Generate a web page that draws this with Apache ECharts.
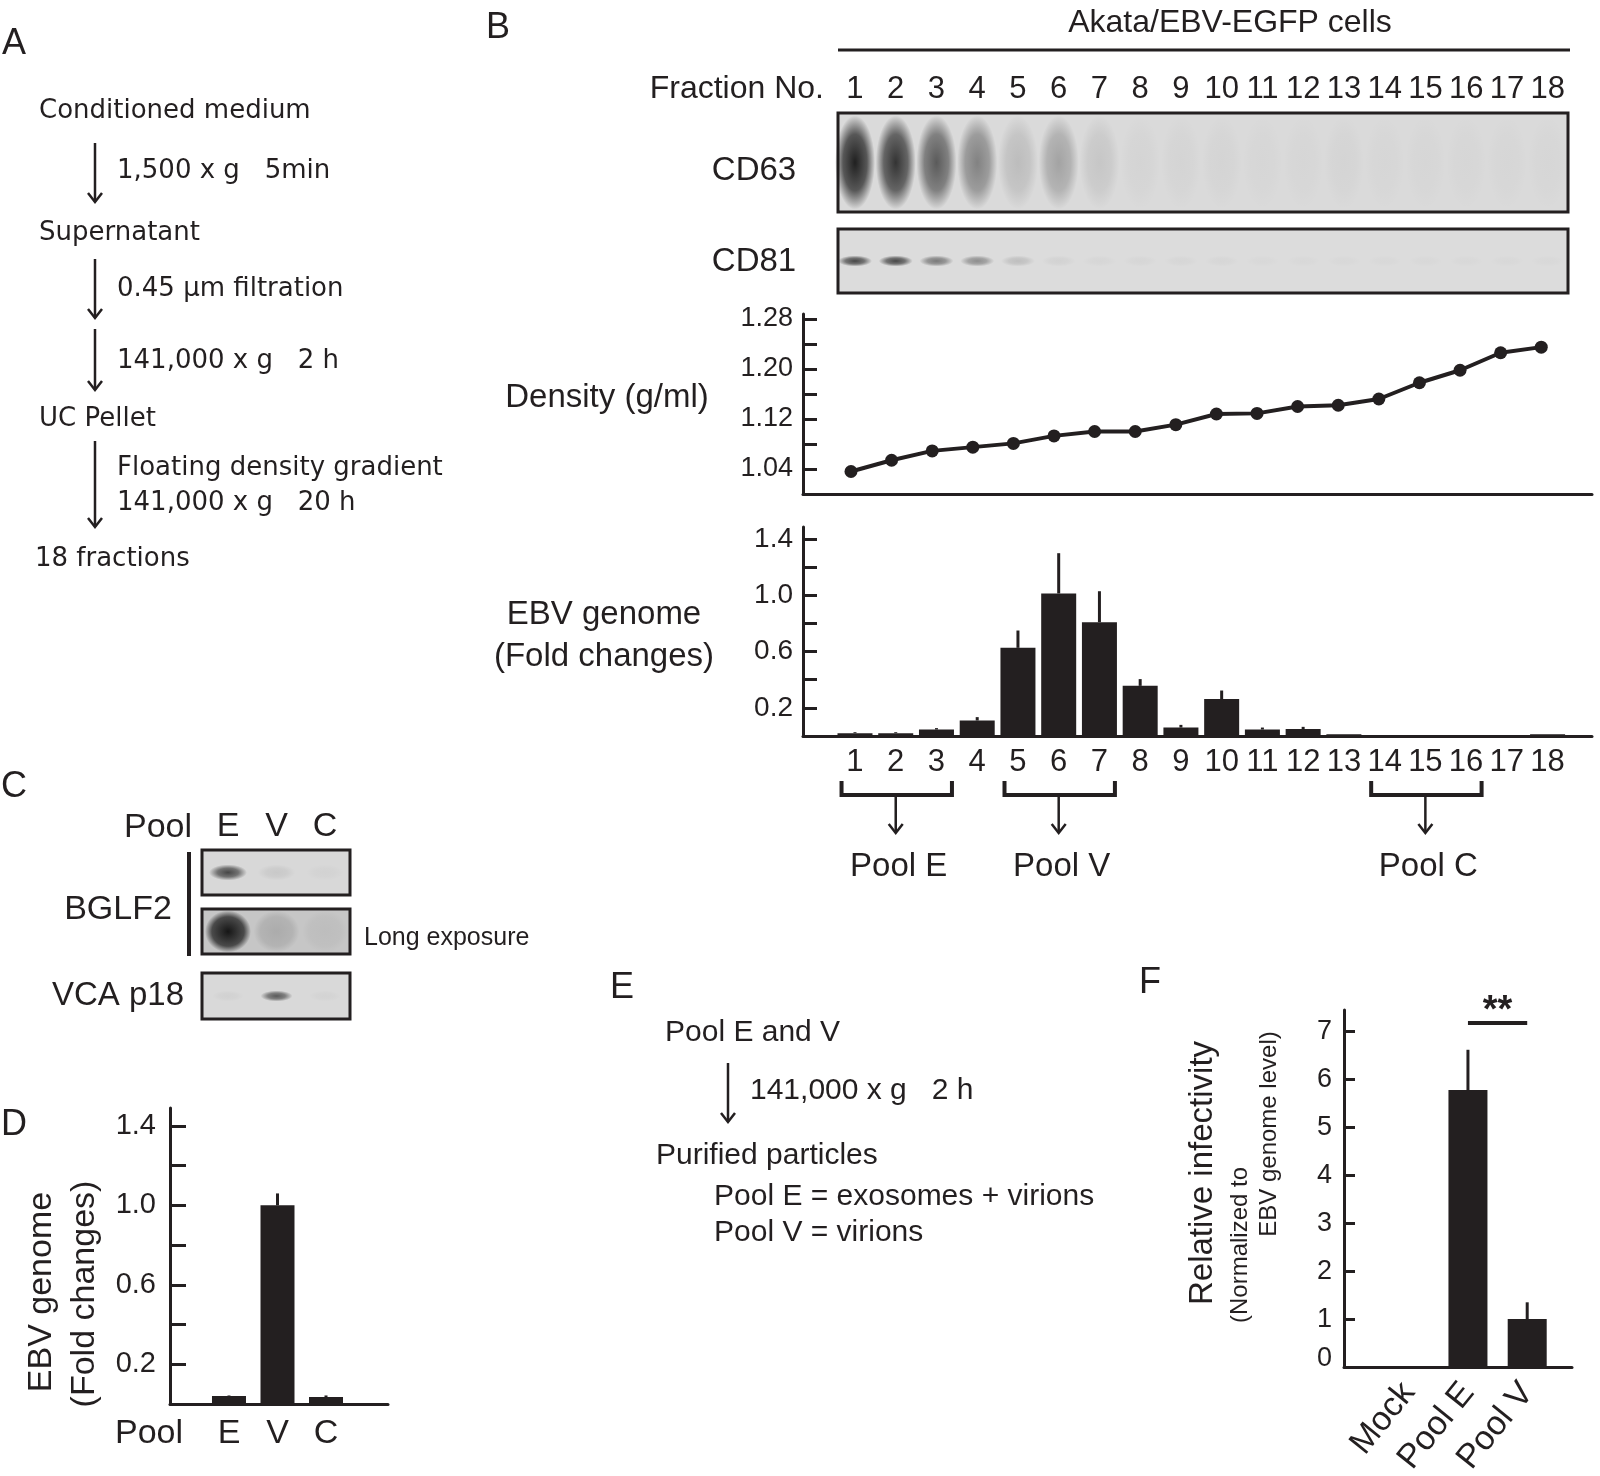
<!DOCTYPE html>
<html><head><meta charset="utf-8">
<script src="https://cdn.jsdelivr.net/npm/echarts@6/dist/echarts.min.js"></script>
<style>html,body{margin:0;padding:0;background:#fff}#c{width:1600px;height:1476px}</style>
</head><body><div id="c"></div>
<script>
// ---------- DATA ----------
const fractions = [1,2,3,4,5,6,7,8,9,10,11,12,13,14,15,16,17,18];
const densityValues = [1.036,1.054,1.069,1.075,1.081,1.093,1.100,1.100,1.111,1.128,1.129,1.140,1.142,1.152,1.178,1.198,1.226,1.235];
const ebvFold = [0.020,0.020,0.046,0.110,0.626,1.012,0.808,0.356,0.060,0.262,0.046,0.049,0.013,0.004,0.004,0.004,0.004,0.012];
const ebvErr  = [0.007,0.007,0.010,0.024,0.123,0.286,0.220,0.048,0.019,0.061,0.014,0.016,0,0,0,0,0,0];
const cd63Intensity = [0.95,0.85,0.65,0.45,0.15,0.28,0.10,0.03,0.03,0.03,0.02,0.02,0.03,0.02,0.02,0.02,0.02,0.02];
const cd81Intensity = [0.75,0.75,0.5,0.4,0.15,0.05,0.03,0.03,0.03,0.03,0.02,0.02,0.02,0.02,0.02,0.02,0.02,0.02];
const densityTicks = [1.04,1.08,1.12,1.16,1.20,1.24,1.28];
const densityLabels = [1.04,1.12,1.20,1.28];
const foldTicks = [0.2,0.4,0.6,0.8,1.0,1.2,1.4];
const foldLabels = [0.2,0.6,1.0,1.4];
const poolGroups = [['Pool E',1,3],['Pool V',5,7],['Pool C',14,16]];

const poolNames = ['E','V','C'];
const poolFold = [0.040,1.000,0.035];
const poolErr  = [0.003,0.060,0.008];
const bglf2Short = [0.75,0.08,0.03];
const bglf2Long  = [1.0,0.15,0.05];
const vcaP18     = [0.04,0.65,0.03];

const infectCats = ['Mock','Pool E','Pool V'];
const infectValues = [0,5.78,1.0];
const infectErr = [0,0.84,0.35];
const infectTicks = [1,2,3,4,5,6,7];
const infectLabels = [0,1,2,3,4,5,6,7];

// ---------- STYLE ----------
const INK = '#231f20';
const FONT = '"Liberation Sans", Arial, sans-serif';
const FONT_A = '"DejaVu Sans", sans-serif';

const chart = echarts.init(document.getElementById('c'), null, {renderer:'canvas', width:1600, height:1476});

function band(core) {
  return new echarts.graphic.RadialGradient(0.5,0.5,0.5,[
    {offset:0,color:'rgba(22,22,22,1)'},
    {offset:core||0.55,color:'rgba(22,22,22,0.7)'},
    {offset:1,color:'rgba(22,22,22,0)'}]);
}
function hidden(grid, min, max) {
  return {type:'value', gridIndex:grid, min:min, max:max,
    axisLine:{show:false}, axisTick:{show:false}, axisLabel:{show:false}, splitLine:{show:false}};
}
function lab(size, extra) {
  return Object.assign({color:INK, fontFamily:FONT, fontSize:size}, extra);
}
const axLine = {show:true, onZero:false, lineStyle:{color:INK, width:3}};
function yTicks(vals, len) { return {show:true, inside:true, length:len, customValues:vals, lineStyle:{color:INK, width:3}}; }
function errRender(params, api) {
  const x = api.value(0), y = api.value(1), e = api.value(2);
  if (!e) return null;
  const p1 = api.coord([x, y]), p2 = api.coord([x, y + e]);
  return {type:'line', shape:{x1:p1[0], y1:p1[1], x2:p2[0], y2:p2[1]}, style:{stroke:INK, lineWidth:3}};
}
function blotData(arr, xs, y) { return arr.map((v,i)=>({value:[xs[i], y], itemStyle:{opacity:v}})); }
const lanes = [1,2,3];

const boxStyle = (bg) => ({show:true, backgroundColor:bg, borderColor:INK, borderWidth:3, outerBoundsMode:'none'});

const option = {
  animation:false,
  backgroundColor:'#ffffff',
  grid:[
    Object.assign({left:838, top:113, width:730, height:99}, boxStyle('#dadada')),
    Object.assign({left:838, top:229, width:730, height:64}, boxStyle('#dcdcdc')),
    {left:803, top:314, width:789, height:180, outerBoundsMode:'none'},
    {left:803, top:527, width:789, height:209, outerBoundsMode:'none'},
    {left:170, top:1108, width:218, height:296, outerBoundsMode:'none'},
    {left:1344, top:1010, width:228, height:357, outerBoundsMode:'none'},
    Object.assign({left:202, top:850, width:148, height:45}, boxStyle('#d8d8d8')),
    Object.assign({left:202, top:909, width:148, height:45}, boxStyle('#c6c6c6')),
    Object.assign({left:202, top:973, width:148, height:46}, boxStyle('#d9d9d9'))
  ],
  xAxis:[
    {type:'value', gridIndex:0, position:'top', min:0.583, max:18.497,
     axisLine:{show:false}, axisTick:{show:false}, splitLine:{show:false},
     axisLabel:lab(31, {customValues:fractions, margin:8, formatter:v=>String(Math.round(v))})},
    hidden(1, 0.583, 18.497),
    {type:'value', gridIndex:2, min:-0.182, max:19.25, axisLine:axLine, axisTick:{show:false},
     axisLabel:{show:false}, splitLine:{show:false}},
    {type:'value', gridIndex:3, min:-0.276, max:19.09, axisLine:axLine, axisTick:{show:false}, splitLine:{show:false},
     axisLabel:lab(31, {customValues:fractions, margin:11, formatter:v=>String(Math.round(v))})},
    {type:'value', gridIndex:4, min:-0.216, max:4.278, axisLine:axLine, axisTick:{show:false}, splitLine:{show:false},
     axisLabel:lab(34, {customValues:lanes, margin:13, formatter:v=>poolNames[Math.round(v)-1]})},
    {type:'value', gridIndex:5, min:-0.092, max:3.756, axisLine:axLine, axisTick:{show:false}, splitLine:{show:false},
     axisLabel:lab(34, {customValues:lanes, margin:20, rotate:51, formatter:v=>infectCats[Math.round(v)-1]})},
    {type:'value', gridIndex:6, position:'top', min:0.464, max:3.515,
     axisLine:{show:false}, axisTick:{show:false}, splitLine:{show:false},
     axisLabel:lab(34, {customValues:lanes, margin:6, formatter:v=>poolNames[Math.round(v)-1]})},
    hidden(7, 0.464, 3.515), hidden(8, 0.464, 3.515)
  ],
  yAxis:[
    hidden(0,0,1), hidden(1,0,1),
    {type:'value', gridIndex:2, min:1.0, max:1.288, axisLine:axLine, axisTick:yTicks(densityTicks,14), splitLine:{show:false},
     axisLabel:lab(27, {customValues:densityLabels, margin:10, formatter:v=>v.toFixed(2)})},
    {type:'value', gridIndex:3, min:0, max:1.484, axisLine:axLine, axisTick:yTicks(foldTicks,14), splitLine:{show:false},
     axisLabel:lab(28, {customValues:foldLabels, margin:10, formatter:v=>v.toFixed(1)})},
    {type:'value', gridIndex:4, min:0, max:1.49, axisLine:axLine, axisTick:yTicks(foldTicks,16), splitLine:{show:false},
     axisLabel:lab(29, {customValues:foldLabels, margin:14, formatter:v=>v.toFixed(1)})},
    {type:'value', gridIndex:5, min:0, max:7.45, axisLine:axLine, axisTick:yTicks(infectTicks,11), splitLine:{show:false},
     axisLabel:lab(27, {customValues:infectLabels, margin:12,
       formatter:v=>(Math.round(v)===0 ? '{up|0}' : String(Math.round(v))),
       rich:{up:{fontSize:27, fontFamily:FONT, color:INK, padding:[0,0,17,0]}}})},
    hidden(6,0,1), hidden(7,0,1), hidden(8,0,1)
  ],
  series:[
    {type:'scatter', xAxisIndex:0, yAxisIndex:0, silent:true, symbol:'circle', symbolSize:[40,94],
     itemStyle:{color:band(0.6)}, data:blotData(cd63Intensity, fractions, 0.5)},
    {type:'scatter', xAxisIndex:1, yAxisIndex:1, silent:true, symbol:'circle', symbolSize:[34,11],
     itemStyle:{color:band()}, data:blotData(cd81Intensity, fractions, 0.5)},
    {type:'line', xAxisIndex:2, yAxisIndex:2, silent:true, symbol:'circle', symbolSize:13,
     itemStyle:{color:INK}, lineStyle:{color:INK, width:4},
     data:fractions.map((f,i)=>[f, densityValues[i]])},
    {type:'bar', xAxisIndex:3, yAxisIndex:3, silent:true, barWidth:35, itemStyle:{color:INK},
     data:fractions.map((f,i)=>[f, ebvFold[i]])},
    {type:'custom', xAxisIndex:3, yAxisIndex:3, silent:true, renderItem:errRender, encode:{x:0,y:1},
     data:fractions.map((f,i)=>[f, ebvFold[i], ebvErr[i]])},
    {type:'bar', xAxisIndex:4, yAxisIndex:4, silent:true, barWidth:34, itemStyle:{color:INK},
     data:lanes.map((n,i)=>[n, poolFold[i]])},
    {type:'custom', xAxisIndex:4, yAxisIndex:4, silent:true, renderItem:errRender, encode:{x:0,y:1},
     data:lanes.map((n,i)=>[n, poolFold[i], poolErr[i]])},
    {type:'bar', xAxisIndex:5, yAxisIndex:5, silent:true, barWidth:39, itemStyle:{color:INK},
     data:lanes.map((n,i)=>[n, infectValues[i]])},
    {type:'custom', xAxisIndex:5, yAxisIndex:5, silent:true, renderItem:errRender, encode:{x:0,y:1},
     data:lanes.map((n,i)=>[n, infectValues[i], infectErr[i]])},
    {type:'scatter', xAxisIndex:6, yAxisIndex:6, silent:true, symbol:'circle', symbolSize:[38,16],
     itemStyle:{color:band()}, data:blotData(bglf2Short, lanes, 0.5)},
    {type:'scatter', xAxisIndex:7, yAxisIndex:7, silent:true, symbol:'circle', symbolSize:[46,42],
     itemStyle:{color:band(0.7)}, data:blotData(bglf2Long, lanes, 0.5)},
    {type:'scatter', xAxisIndex:8, yAxisIndex:8, silent:true, symbol:'circle', symbolSize:[32,11],
     itemStyle:{color:band()}, data:blotData(vcaP18, lanes, 0.5)}
  ]
};
chart.setOption(option);

// ---------- ANNOTATIONS ----------
function txt(x, y, text, size, align, font, bold) {
  return {type:'text', x:x, y:y, silent:true,
    style:{text:text, font:(bold?'bold ':'')+size+'px '+(font||FONT), fill:INK,
      textAlign:align||'left', textVerticalAlign:'middle', align:align||'left', verticalAlign:'middle'}};
}
function vtxt(x, y, text, size) { const t = txt(x, y, text, size, 'center'); t.rotation = Math.PI/2; return t; }
function line(x1,y1,x2,y2,w) {
  return {type:'line', silent:true, shape:{x1:x1,y1:y1,x2:x2,y2:y2}, style:{stroke:INK, lineWidth:w||2.5}};
}
function arrow(x, y1, y2) {
  return [line(x,y1,x,y2,2.5),
    {type:'polyline', silent:true, shape:{points:[[x-7,y2-9],[x,y2],[x+7,y2-9]]}, style:{stroke:INK, lineWidth:2.5, fill:null}}];
}
const els = [];
// Panel letters
[['A',14,44],['B',498,28],['C',14,787],['D',14,1125],['E',622,988],['F',1150,983]].forEach(l=>els.push(txt(l[1],l[2],l[0],36,'center')));
// Panel A
els.push(txt(39,111,'Conditioned medium',26,'left',FONT_A));
els.push(...arrow(95,143,202));
els.push(txt(117,171,'1,500 x g   5min',26,'left',FONT_A));
els.push(txt(39,233,'Supernatant',26,'left',FONT_A));
els.push(...arrow(95,259,318));
els.push(txt(117,289,'0.45 \u03bcm filtration',26,'left',FONT_A));
els.push(...arrow(95,329,390));
els.push(txt(117,361,'141,000 x g   2 h',26,'left',FONT_A));
els.push(txt(39,419,'UC Pellet',26,'left',FONT_A));
els.push(...arrow(95,441,527));
els.push(txt(117,468,'Floating density gradient',26,'left',FONT_A));
els.push(txt(117,503,'141,000 x g   20 h',26,'left',FONT_A));
els.push(txt(35,559,'18 fractions',26,'left',FONT_A));
// Panel B
els.push(txt(1230,23,'Akata/EBV-EGFP cells',32,'center'));
els.push(line(838,50,1570,50,3));
els.push(txt(824,89,'Fraction No.',32,'right'));
els.push(txt(754,171,'CD63',33,'center'));
els.push(txt(754,262,'CD81',33,'center'));
els.push(txt(607,398,'Density (g/ml)',33,'center'));
els.push(txt(604,615,'EBV genome',33,'center'));
els.push(txt(604,657,'(Fold changes)',33,'center'));
poolGroups.forEach(g=>{
  const xa = chart.convertToPixel({gridIndex:3}, [g[1]-0.33, 0])[0];
  const xb = chart.convertToPixel({gridIndex:3}, [g[2]+0.38, 0])[0];
  const xc = chart.convertToPixel({gridIndex:3}, [(g[1]+g[2])/2, 0])[0];
  els.push({type:'polyline', silent:true, shape:{points:[[xa,781],[xa,795],[xb,795],[xb,781]]}, style:{stroke:INK, lineWidth:4, fill:null}});
  els.push(...arrow(xc,795,833));
  els.push(txt(xc+3,867,g[0],33,'center'));
});
// Panel C
els.push(txt(158,828,'Pool',34,'center'));
els.push({type:'rect', silent:true, shape:{x:187,y:852,width:4,height:104}, style:{fill:INK}});
els.push(txt(118,910,'BGLF2',34,'center'));
els.push(txt(364,938,'Long exposure',25,'left'));
els.push(txt(118,996,'VCA p18',33,'center'));
// Panel D
els.push(txt(149,1434,'Pool',34,'center'));
els.push(vtxt(42,1292,'EBV genome',34));
els.push(vtxt(85,1294,'(Fold changes)',34));
// Panel E
els.push(txt(665,1033,'Pool E and V',30,'left'));
els.push(...arrow(728,1063,1122));
els.push(txt(750,1091,'141,000 x g   2 h',30,'left'));
els.push(txt(656,1156,'Purified particles',30,'left'));
els.push(txt(714,1197,'Pool E = exosomes + virions',30,'left'));
els.push(txt(714,1233,'Pool V = virions',30,'left'));
// Panel F
els.push(vtxt(1203,1173,'Relative infectivity',33));
els.push(vtxt(1240,1245,'(Normalized to',24));
els.push(vtxt(1269,1134,'EBV genome level)',24));
(function(){
  const p1 = chart.convertToPixel({gridIndex:5}, [2, 7.18]);
  const p2 = chart.convertToPixel({gridIndex:5}, [3, 7.18]);
  els.push(line(p1[0], p1[1], p2[0], p2[1], 4));
  els.push(txt((p1[0]+p2[0])/2, p1[1]-11, '**', 38, 'center', FONT, true));
})();
chart.setOption({graphic:{elements:els}});
</script>
</body></html>
